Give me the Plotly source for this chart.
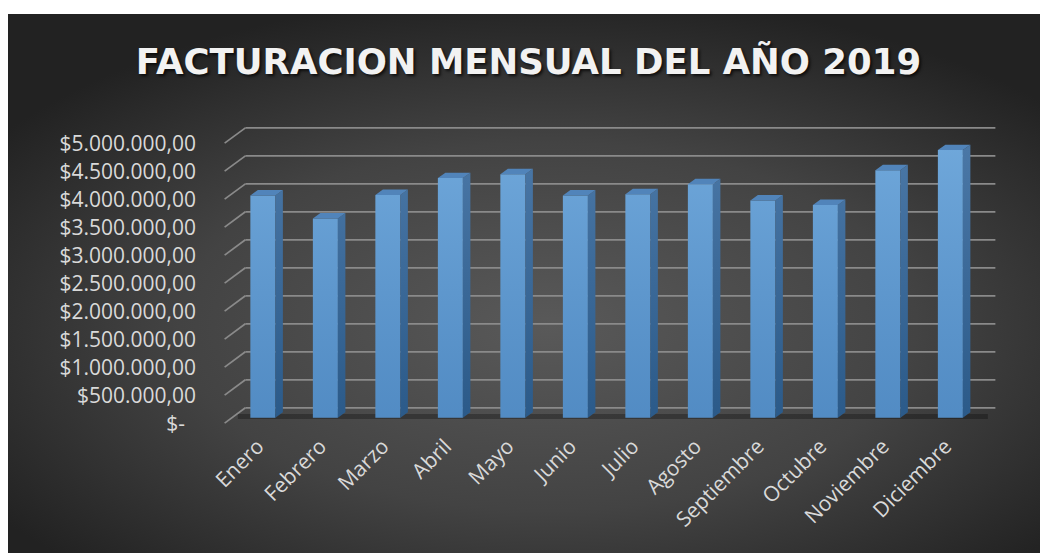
import base64
import plotly.graph_objects as go

# ---------------- data ----------------
MONTHS = ["Enero", "Febrero", "Marzo", "Abril", "Mayo", "Junio", "Julio",
          "Agosto", "Septiembre", "Octubre", "Noviembre", "Diciembre"]
FACTURACION = [3970000, 3560000, 3980000, 4280000, 4350000, 3970000, 3990000,
               4170000, 3880000, 3800000, 4420000, 4780000]
Y_TICKS = [0, 500000, 1000000, 1500000, 2000000, 2500000, 3000000, 3500000,
           4000000, 4500000, 5000000]
Y_TICK_LABELS = ["$-\u00a0\u00a0", "$500.000,00", "$1.000.000,00", "$1.500.000,00",
                 "$2.000.000,00", "$2.500.000,00", "$3.000.000,00", "$3.500.000,00",
                 "$4.000.000,00", "$4.500.000,00", "$5.000.000,00"]
TITLE = "FACTURACION MENSUAL DEL AÑO 2019"

# ---------------- style / geometry ----------------
W, H = 1040, 553
ML, MR, MT, MB = 216, 37, 121, 121
BAR_W = 0.4            # category units
DEPTH_X = 0.12         # bar depth (category units)
DEPTH_Y = 98000        # bar depth (value units)
BACK_X, BACK_Y = 0.22, 178000     # back wall offset
FRONT_X, FRONT_Y = -0.112, -96000  # front edge offset
X_RANGE = [-0.75, 11.842]
Y_RANGE = [-254000, 5300000]

FRONT_COLOR = "#5b9bd5"
SIDE_SCALE = [[0, "#2b5a89"], [1, "#4a77a6"]]
TOP_COLOR = "#5184ba"
GRID_COLOR = "#8a8a8a"
TEXT_COLOR = "#d9d9d9"
EDGE_DARK = "#262626"

idx = list(range(len(MONTHS)))

fig = go.Figure()

# front faces
fig.add_trace(go.Bar(x=idx, y=FACTURACION, width=BAR_W,
                     marker=dict(color=FRONT_COLOR, line=dict(width=0)),
                     hovertemplate="%{customdata}: $%{y:,.2f}<extra></extra>",
                     customdata=MONTHS, showlegend=False))

# subtle vertical shading on the front faces
gx, gy = [], []
for i, v in zip(idx, FACTURACION):
    gx += [i - BAR_W / 2, i + BAR_W / 2, i + BAR_W / 2, i - BAR_W / 2, i - BAR_W / 2, None]
    gy += [0, 0, v, v, 0, None]
fig.add_trace(go.Scatter(x=gx, y=gy, mode="none", fill="toself",
                         fillgradient=dict(type="vertical",
                                           colorscale=[[0, "rgba(0,0,40,0.10)"],
                                                       [1, "rgba(255,255,255,0.12)"]],
                                           start=0, stop=4800000),
                         hoverinfo="skip", showlegend=False))

# side faces
sx, sy = [], []
for i, v in zip(idx, FACTURACION):
    r = i + BAR_W / 2
    sx += [r, r + DEPTH_X, r + DEPTH_X, r, r, None]
    sy += [0, DEPTH_Y, v + DEPTH_Y, v, 0, None]
fig.add_trace(go.Scatter(x=sx, y=sy, mode="none", fill="toself",
                         fillgradient=dict(type="vertical", colorscale=SIDE_SCALE,
                                           start=0, stop=4800000),
                         hoverinfo="skip", showlegend=False))

# top faces
tx, ty = [], []
for i, v in zip(idx, FACTURACION):
    l, r = i - BAR_W / 2, i + BAR_W / 2
    tx += [l, r, r + DEPTH_X, l + DEPTH_X, l, None]
    ty += [v, v, v + DEPTH_Y, v + DEPTH_Y, v, None]
fig.add_trace(go.Scatter(x=tx, y=ty, mode="none", fill="toself",
                         fillcolor=TOP_COLOR, hoverinfo="skip", showlegend=False))

# back-wall gridlines and side-wall diagonals
shapes = []
x_first, x_last = idx[0] - 0.5, idx[-1] + 0.5
for t in Y_TICKS:
    shapes.append(dict(type="line", xref="x", yref="y", layer="below",
                       x0=x_first + BACK_X, x1=x_last + BACK_X,
                       y0=t + BACK_Y, y1=t + BACK_Y,
                       line=dict(color=GRID_COLOR, width=1.75)))
    shapes.append(dict(type="line", xref="x", yref="y", layer="below",
                       x0=x_first + FRONT_X, x1=x_first + BACK_X,
                       y0=t + FRONT_Y, y1=t + BACK_Y,
                       line=dict(color=GRID_COLOR, width=1.75)))
# floor shadow
shapes.append(dict(type="line", xref="x", yref="y", layer="below",
                   x0=x_first + 0.1, x1=x_last + 0.1, y0=25000, y1=25000,
                   line=dict(color="rgba(0,0,0,0.28)", width=5)))

pw, ph = W - ML - MR, H - MT - MB
bg_left, bg_top = 8, 14
# white frame at the top and left of the dark chart area
px = lambda p: (p - ML) / pw
py = lambda p: (H - MB - p) / ph
shapes.append(dict(type="rect", xref="paper", yref="paper", layer="below",
                   x0=px(-5), x1=px(W + 5), y0=py(-5), y1=py(bg_top),
                   fillcolor="white", line=dict(width=0)))
shapes.append(dict(type="rect", xref="paper", yref="paper", layer="below",
                   x0=px(-5), x1=px(bg_left), y0=py(-5), y1=py(H + 5),
                   fillcolor="white", line=dict(width=0)))

# background gradient (dark radial, Excel style)
BG_W, BG_H = 1080, 539
svg = (f'<svg xmlns="http://www.w3.org/2000/svg" width="{BG_W}" height="{BG_H}">'
       '<defs><radialGradient id="g" cx="50%" cy="58%" r="62%">'
       '<stop offset="0" stop-color="#595959"/>'
       '<stop offset="0.55" stop-color="#434343"/>'
       '<stop offset="1" stop-color="#222222"/>'
       '</radialGradient></defs>'
       f'<rect width="{BG_W}" height="{BG_H}" fill="url(#g)"/></svg>')
src = "data:image/svg+xml;base64," + base64.b64encode(svg.encode()).decode()

fig.update_layout(
    width=W, height=H,
    margin=dict(l=ML, r=MR, t=MT, b=MB),
    paper_bgcolor=EDGE_DARK,
    plot_bgcolor="rgba(0,0,0,0)",
    images=[dict(source=src, xref="paper", yref="paper",
                 x=px(bg_left), y=py(bg_top),
                 sizex=BG_W / pw, sizey=BG_H / ph,
                 xanchor="left", yanchor="top", sizing="stretch", layer="below")],
    shapes=shapes,
    title=dict(text=TITLE, x=528.5 / W, y=1 - 62 / H, xref="container", yref="container",
               xanchor="center", yanchor="middle",
               font=dict(family="DejaVu Sans", size=35.5, color="#f2f2f2", weight="bold",
                         shadow="2px 2px 3px rgba(0,0,0,0.7)")),
    xaxis=dict(range=X_RANGE, tickvals=idx, ticktext=MONTHS, tickangle=-45,
               showgrid=False, zeroline=False, showline=False, ticks="",
               ticklabelshift=-5, ticklabelstandoff=-3,
               tickfont=dict(family="Open Sans", size=21, color=TEXT_COLOR),
               fixedrange=True),
    yaxis=dict(range=Y_RANGE, tickvals=Y_TICKS, ticktext=Y_TICK_LABELS,
               showgrid=False, zeroline=False, showline=False, ticks="",
               ticklabelshift=6, ticklabelstandoff=19,
               tickfont=dict(family="Open Sans", size=21, color=TEXT_COLOR),
               fixedrange=True),
    bargap=0.6,
)

fig.write_html("out.html",
               config={"displayModeBar": False},
               post_script="document.body.style.margin='0';"
                           "document.body.style.overflow='hidden';"
                           "document.body.style.background='" + EDGE_DARK + "';")
